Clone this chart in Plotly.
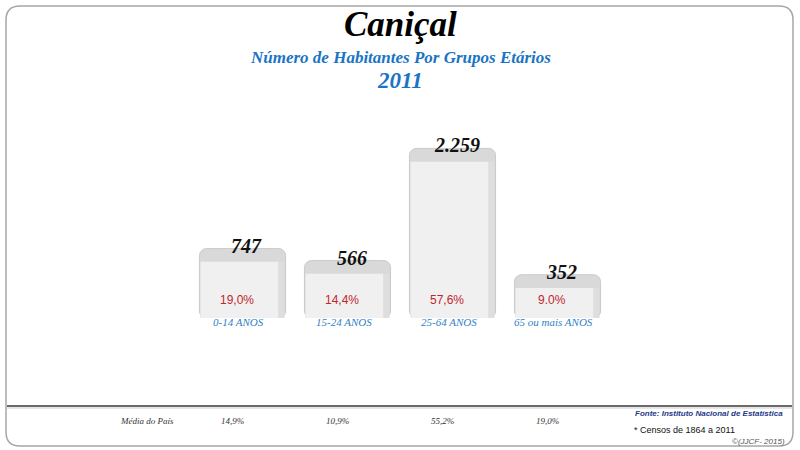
import plotly.graph_objects as go

categories = ["0-14 ANOS", "15-24 ANOS", "25-64 ANOS", "65 ou mais ANOS"]
habitantes = [747, 566, 2259, 352]
value_labels = ["747", "566", "2.259", "352"]
pct_labels = ["19,0%", "14,4%", "57,6%", "9.0%"]
media_pais = ["14,9%", "10,9%", "55,2%", "19,0%"]

W, H = 800, 450
OFFSET = 301          # axis baseline below zero (visual offset of the original chart)
TOPFACE = 200         # depth of the top face in value units
Y_RANGE = [-OFFSET, 2990]

def px(x):
    return x / W

def py(y):
    return 1 - y / H

fig = go.Figure()

# top face (rounded)
fig.add_trace(go.Bar(
    x=categories, y=[v + OFFSET for v in habitantes], base=-OFFSET,
    marker=dict(color="#d9d9d9", line=dict(color="#cacaca", width=1), cornerradius=7),
    width=0.82, hoverinfo="skip", showlegend=False))
# right side shading
fig.add_trace(go.Bar(
    x=categories, y=[v + OFFSET - TOPFACE for v in habitantes], base=-OFFSET,
    marker=dict(color="#dedede", line=dict(width=0)),
    width=0.80, hoverinfo="skip", showlegend=False))
# front face
fig.add_trace(go.Bar(
    x=categories, y=[v + OFFSET - TOPFACE for v in habitantes], base=-OFFSET,
    marker=dict(color="#f0f0f0", line=dict(width=0)),
    width=0.74, offset=-0.40, showlegend=False))

annotations = []
for c, v, lab in zip(categories, habitantes, value_labels):
    annotations.append(dict(x=c, y=v, xref="x", yref="y", text="<b><i>" + lab + "</i></b>",
                            showarrow=False, yanchor="middle", yshift=3, xshift=4,
                            font=dict(family="Liberation Serif", size=20, color="#111111")))
for c, lab in zip(categories, pct_labels):
    annotations.append(dict(x=c, y=py(300), xref="x", yref="paper", text=lab, showarrow=False,
                            xshift=-6, yanchor="middle", xanchor="center",
                            font=dict(family="Liberation Sans", size=12, color="#c0262c")))
for c in categories:
    annotations.append(dict(x=c, y=py(322), xref="x", yref="paper", text="<i>" + c + "</i>",
                            showarrow=False, yanchor="middle", xanchor="center", xshift=-4,
                            font=dict(family="Liberation Serif", size=11, color="#2f7fc6")))

# titles
annotations += [
    dict(x=0.5, y=py(24), xref="paper", yref="paper", text="<b><i>Caniçal</i></b>", showarrow=False,
         yanchor="middle", xanchor="center", font=dict(family="Liberation Serif", size=35, color="#000000")),
    dict(x=0.5, y=py(57), xref="paper", yref="paper",
         text="<b><i>Número de Habitantes Por Grupos Etários</i></b>", showarrow=False,
         yanchor="middle", xanchor="center", font=dict(family="Liberation Serif", size=17, color="#1a74c4")),
    dict(x=0.5, y=py(80), xref="paper", yref="paper", text="<b><i>2011</i></b>", showarrow=False,
         yanchor="middle", xanchor="center", font=dict(family="Liberation Serif", size=23, color="#1a74c4")),
]

# bottom row
annotations.append(dict(x=px(147), y=py(421), xref="paper", yref="paper", text="<i>Média do País</i>",
                        showarrow=False, yanchor="middle", xanchor="center",
                        font=dict(family="Liberation Serif", size=9, color="#333333")))
for c, lab in zip(categories, media_pais):
    annotations.append(dict(x=c, y=py(421), xref="x", yref="paper", text="<i>" + lab + "</i>",
                            showarrow=False, yanchor="middle", xanchor="center", xshift=-10,
                            font=dict(family="Liberation Serif", size=9, color="#333333")))
annotations += [
    dict(x=px(633), y=py(413), xref="paper", yref="paper", xanchor="left",
         text="<b><i>Fonte: Instituto Nacional de Estatística</i></b>", showarrow=False, yanchor="middle",
         font=dict(family="Liberation Sans", size=8, color="#1f3a8a")),
    dict(x=px(632), y=py(430), xref="paper", yref="paper", xanchor="left",
         text="* Censos de 1864 a 2011", showarrow=False, yanchor="middle",
         font=dict(family="Liberation Sans", size=9, color="#111111")),
    dict(x=px(787), y=py(441), xref="paper", yref="paper", xanchor="right",
         text="<i>©(JJCF- 2015)</i>", showarrow=False, yanchor="middle",
         font=dict(family="Liberation Sans", size=8, color="#555555")),
]

# frame (rounded rectangle) and separator line
x0, y0, x1, y1, r = px(6), py(6), px(793), py(446), 14
rx, ry = r / W, r / H
frame_path = (f"M {x0+rx},{y0} L {x1-rx},{y0} Q {x1},{y0} {x1},{y0-ry} "
              f"L {x1},{y1+ry} Q {x1},{y1} {x1-rx},{y1} "
              f"L {x0+rx},{y1} Q {x0},{y1} {x0},{y1+ry} "
              f"L {x0},{y0-ry} Q {x0},{y0} {x0+rx},{y0} Z")
shapes = [
    dict(type="path", path=frame_path, xref="paper", yref="paper",
         line=dict(color="#a6a6a6", width=1.5), layer="below"),
    dict(type="line", x0=px(7), x1=px(792), y0=py(406), y1=py(406), xref="paper", yref="paper",
         line=dict(color="#3a3a3a", width=1.5)),
    dict(type="line", x0=px(7), x1=px(792), y0=py(408), y1=py(408), xref="paper", yref="paper",
         line=dict(color="#cfcfcf", width=1)),
]

fig.update_layout(
    width=W, height=H, margin=dict(l=0, r=0, t=0, b=0),
    paper_bgcolor="white", plot_bgcolor="rgba(0,0,0,0)",
    barmode="overlay",
    xaxis=dict(domain=[px(190), px(610)], showgrid=False, zeroline=False, showline=False,
               ticks="", showticklabels=False),
    yaxis=dict(domain=[py(318), py(100)], range=Y_RANGE, visible=False),
    annotations=annotations, shapes=shapes, showlegend=False,
)

fig.write_html("out.html")
